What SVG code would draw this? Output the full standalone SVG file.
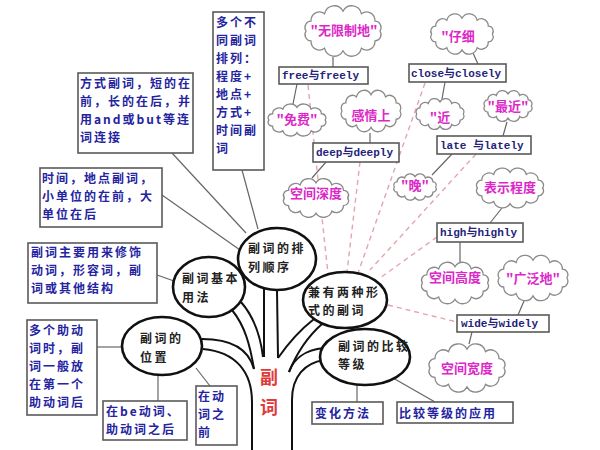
<svg xmlns="http://www.w3.org/2000/svg" xmlns:xlink="http://www.w3.org/1999/xlink" width="600" height="450" viewBox="0 0 600 450">
<style>
.box{fill:#fff;stroke:#5a5a5a;stroke-width:1.6}
.el{fill:#fff;stroke:#111;stroke-width:2.6}
.cl{fill:#fff;stroke:#8a8a8a;stroke-width:1.3;vector-effect:non-scaling-stroke}
.bt{font-family:"Noto Sans CJK SC",sans-serif;font-size:12px;font-weight:700;fill:#2424a0;letter-spacing:2px}
.et{font-family:"Liberation Mono","Noto Sans CJK SC",monospace;font-size:11px;font-weight:700;fill:#24247a}
.ct{font-family:"Noto Sans CJK SC",sans-serif;font-size:12px;font-weight:700;fill:#222;letter-spacing:2.5px}
.pt{font-family:"Noto Sans CJK SC",sans-serif;font-size:13px;font-weight:700;fill:#dc28c8;text-anchor:middle}
.ln{stroke:#666;stroke-width:1.2;fill:none}
.dl{stroke:#e6a4ac;stroke-width:1.4;stroke-dasharray:5 4;fill:none}
.tr{stroke:#111;stroke-width:2;fill:none}
</style>
<defs>
<path id="cloud" class="cl" d="M44,0 A7,7 0 0 1 38.1,11 A10,10 0 0 1 22,19.05 A12,12 0 0 1 0,22 A12,12 0 0 1 -22,19.05 A10,10 0 0 1 -38.1,11 A7,7 0 0 1 -44,0 A7,7 0 0 1 -38.1,-11 A10,10 0 0 1 -22,-19.05 A12,12 0 0 1 0,-22 A12,12 0 0 1 22,-19.05 A10,10 0 0 1 38.1,-11 A7,7 0 0 1 44,0 Z"/>
</defs>
<rect width="600" height="450" fill="#fff"/>
<g id="connectors">
<path class="tr" d="M203,349 C236,352 252,372 252,402 L252,450"/>
<path class="tr" d="M202,339 C232,339 249,350 254,369"/>
<path class="tr" d="M232,310 C245,326 250,345 254,369"/>
<path class="tr" d="M241,302 C255,318 261,340 263,357"/>
<path class="tr" d="M264,289 L264,357"/>
<path class="tr" d="M277,290 L278,358"/>
<path class="tr" d="M314,319 C300,330 287,345 278,358"/>
<path class="tr" d="M322,324 C306,338 296,355 289,372"/>
<path class="tr" d="M324,348 C304,350 293,360 289,372"/>
<path class="tr" d="M324,360 C305,363 292,376 292,400 L292,450"/>
<path class="ln" d="M172,153 L246,233"/>
<path class="ln" d="M242,170 L258,229"/>
<path class="ln" d="M162,195 L240,250"/>
<path class="ln" d="M157,275 L174,281"/>
<path class="ln" d="M97,347 L122,347"/>
<path class="ln" d="M158,401 L158,375"/>
<path class="ln" d="M210,386 L196,368"/>
<path class="ln" d="M357,402 L357,385"/>
<path class="ln" d="M435,402 L393,378"/>
<path class="ln" d="M333,57 L333,67"/>
<path class="ln" d="M297,84 L293,104"/>
<path class="ln" d="M370,133 L370,143"/>
<path class="ln" d="M326,162 L312,178"/>
<path class="ln" d="M473,53 L478,64"/>
<path class="ln" d="M445,82 L442,99"/>
<path class="ln" d="M507,122 L503,136"/>
<path class="ln" d="M452,154 L432,175"/>
<path class="ln" d="M502,208 L490,223"/>
<path class="ln" d="M460,242 L460,262"/>
<path class="ln" d="M524,301 L518,315"/>
<path class="ln" d="M472,332 L469,344"/>
<path class="dl" d="M308,85 L328,274"/>
<path class="dl" d="M360,162 L347,272"/>
<path class="dl" d="M425,83 L358,273"/>
<path class="dl" d="M476,154 L370,270"/>
<path class="dl" d="M437,237 L380,278"/>
<path class="dl" d="M388,305 L457,322"/>
</g>
<g id="box-order"><rect class="box" x="213" y="12" width="51" height="158"/>
<text class="bt" x="216"><tspan x="216" y="27">多个不</tspan><tspan x="216" y="45">同副词</tspan><tspan x="216" y="63">排列：</tspan><tspan x="216" y="81">程度+</tspan><tspan x="216" y="99">地点+</tspan><tspan x="216" y="117">方式+</tspan><tspan x="216" y="135">时间副</tspan><tspan x="216" y="153">词</tspan></text></g>
<g id="box-manner"><rect class="box" x="78" y="73" width="115" height="80"/>
<text class="bt"><tspan x="80" y="88">方式副词，短的在</tspan><tspan x="80" y="106">前，长的在后，并</tspan><tspan x="80" y="124">用and或but等连</tspan><tspan x="80" y="142">词连接</tspan></text></g>
<g id="box-time"><rect class="box" x="40" y="168" width="122" height="59"/>
<text class="bt"><tspan x="42" y="183">时间，地点副词，</tspan><tspan x="42" y="201">小单位的在前，大</tspan><tspan x="42" y="219">单位在后</tspan></text></g>
<g id="box-usage"><rect class="box" x="28" y="243" width="129" height="60"/>
<text class="bt"><tspan x="31" y="257">副词主要用来修饰</tspan><tspan x="31" y="275">动词，形容词，副</tspan><tspan x="31" y="293">词或其他结构</tspan></text></g>
<g id="box-aux"><rect class="box" x="27" y="320" width="70" height="95"/>
<text class="bt"><tspan x="29" y="335">多个助动</tspan><tspan x="29" y="353">词时，副</tspan><tspan x="29" y="371">词一般放</tspan><tspan x="29" y="389">在第一个</tspan><tspan x="29" y="407">助动词后</tspan></text></g>
<g id="box-be"><rect class="box" x="103" y="401" width="84" height="39"/>
<text class="bt"><tspan x="106" y="416">在be动词、</tspan><tspan x="106" y="434">助动词之后</tspan></text></g>
<g id="box-before"><rect class="box" x="196" y="386" width="41" height="59"/>
<text class="bt"><tspan x="198" y="401">在动</tspan><tspan x="198" y="419">词之</tspan><tspan x="198" y="437">前</tspan></text></g>
<g id="box-change"><rect class="box" x="312" y="402" width="71" height="22"/>
<text class="bt" x="315" y="418">变化方法</text></g>
<g id="box-apply"><rect class="box" x="397" y="402" width="116" height="21"/>
<text class="bt" x="399" y="418">比较等级的应用</text></g>
<g id="node-order"><ellipse class="el" cx="277" cy="259" rx="39" ry="31"/>
<text class="ct"><tspan x="248" y="253">副词的排</tspan><tspan x="248" y="272">列顺序</tspan></text></g>
<g id="node-usage"><ellipse class="el" cx="209" cy="287" rx="36" ry="30"/>
<text class="ct"><tspan x="182" y="283">副词基本</tspan><tspan x="182" y="302">用法</tspan></text></g>
<g id="node-position"><ellipse class="el" cx="162" cy="346" rx="40" ry="29"/>
<text class="ct"><tspan x="140" y="343">副词的</tspan><tspan x="140" y="362">位置</tspan></text></g>
<g id="node-two"><ellipse class="el" cx="345" cy="300" rx="42" ry="28"/>
<text class="ct"><tspan x="308" y="297">兼有两种形</tspan><tspan x="308" y="315">式的副词</tspan></text></g>
<g id="node-compare"><ellipse class="el" cx="365" cy="357" rx="45" ry="28"/>
<text class="ct"><tspan x="338" y="351">副词的比较</tspan><tspan x="338" y="369">等级</tspan></text></g>
<g id="root"><text font-family="Noto Sans CJK SC,sans-serif" font-size="18" font-weight="700" fill="#e03a3a" text-anchor="middle"><tspan x="269" y="384">副</tspan><tspan x="269" y="414">词</tspan></text></g>
<g id="box-free"><rect class="box" x="279" y="67" width="89" height="17"/>
<text class="et" x="282" y="79">free与freely</text></g>
<g id="box-deep"><rect class="box" x="313" y="143" width="86" height="19"/>
<text class="et" x="316" y="156">deep与deeply</text></g>
<g id="box-close"><rect class="box" x="409" y="64" width="97" height="18"/>
<text class="et" x="411" y="77">close与closely</text></g>
<g id="box-late"><rect class="box" x="437" y="136" width="94" height="18"/>
<text class="et" x="440" y="149">late 与lately</text></g>
<g id="box-high"><rect class="box" x="437" y="223" width="86" height="19"/>
<text class="et" x="440" y="236">high与highly</text></g>
<g id="box-wide"><rect class="box" x="457" y="315" width="92" height="17"/>
<text class="et" x="461" y="327">wide与widely</text></g>
<g id="cloud-unlimited"><use xlink:href="#cloud" transform="translate(343,31) scale(0.84,0.9)"/><text class="pt" x="344" y="35">"无限制地"</text></g>
<g id="cloud-free"><use xlink:href="#cloud" transform="translate(297,120) scale(0.64,0.57)"/><text class="pt" x="297" y="124">"免费"</text></g>
<g id="cloud-feeling"><use xlink:href="#cloud" transform="translate(371,111) scale(0.66,0.74)"/><text class="pt" x="371" y="120">感情上</text></g>
<g id="cloud-depth"><use xlink:href="#cloud" transform="translate(316,198) scale(0.72,0.69)"/><text class="pt" x="316" y="198">空间深度</text></g>
<g id="cloud-careful"><use xlink:href="#cloud" transform="translate(462,34) scale(0.69,0.72)"/><text class="pt" x="458" y="41" font-size="17">"仔细</text></g>
<g id="cloud-near"><use xlink:href="#cloud" transform="translate(440,114) scale(0.53,0.55)"/><text class="pt" x="440" y="122" font-size="15">"近</text></g>
<g id="cloud-recent"><use xlink:href="#cloud" transform="translate(508,106) scale(0.53,0.55)"/><text class="pt" x="508" y="111">"最近"</text></g>
<g id="cloud-late"><use xlink:href="#cloud" transform="translate(415,187) scale(0.47,0.47)"/><text class="pt" x="415" y="190">"晚"</text></g>
<g id="cloud-degree"><use xlink:href="#cloud" transform="translate(510,188) scale(0.74,0.71)"/><text class="pt" x="510" y="192">表示程度</text></g>
<g id="cloud-height"><use xlink:href="#cloud" transform="translate(455,283) scale(0.74,0.74)"/><text class="pt" x="455" y="282">空间高度</text></g>
<g id="cloud-wide"><use xlink:href="#cloud" transform="translate(533,278) scale(0.77,0.81)"/><text class="pt" x="533" y="283">"广泛地"</text></g>
<g id="cloud-width"><use xlink:href="#cloud" transform="translate(467,368) scale(0.84,0.86)"/><text class="pt" x="467" y="373">空间宽度</text></g>
</svg>
